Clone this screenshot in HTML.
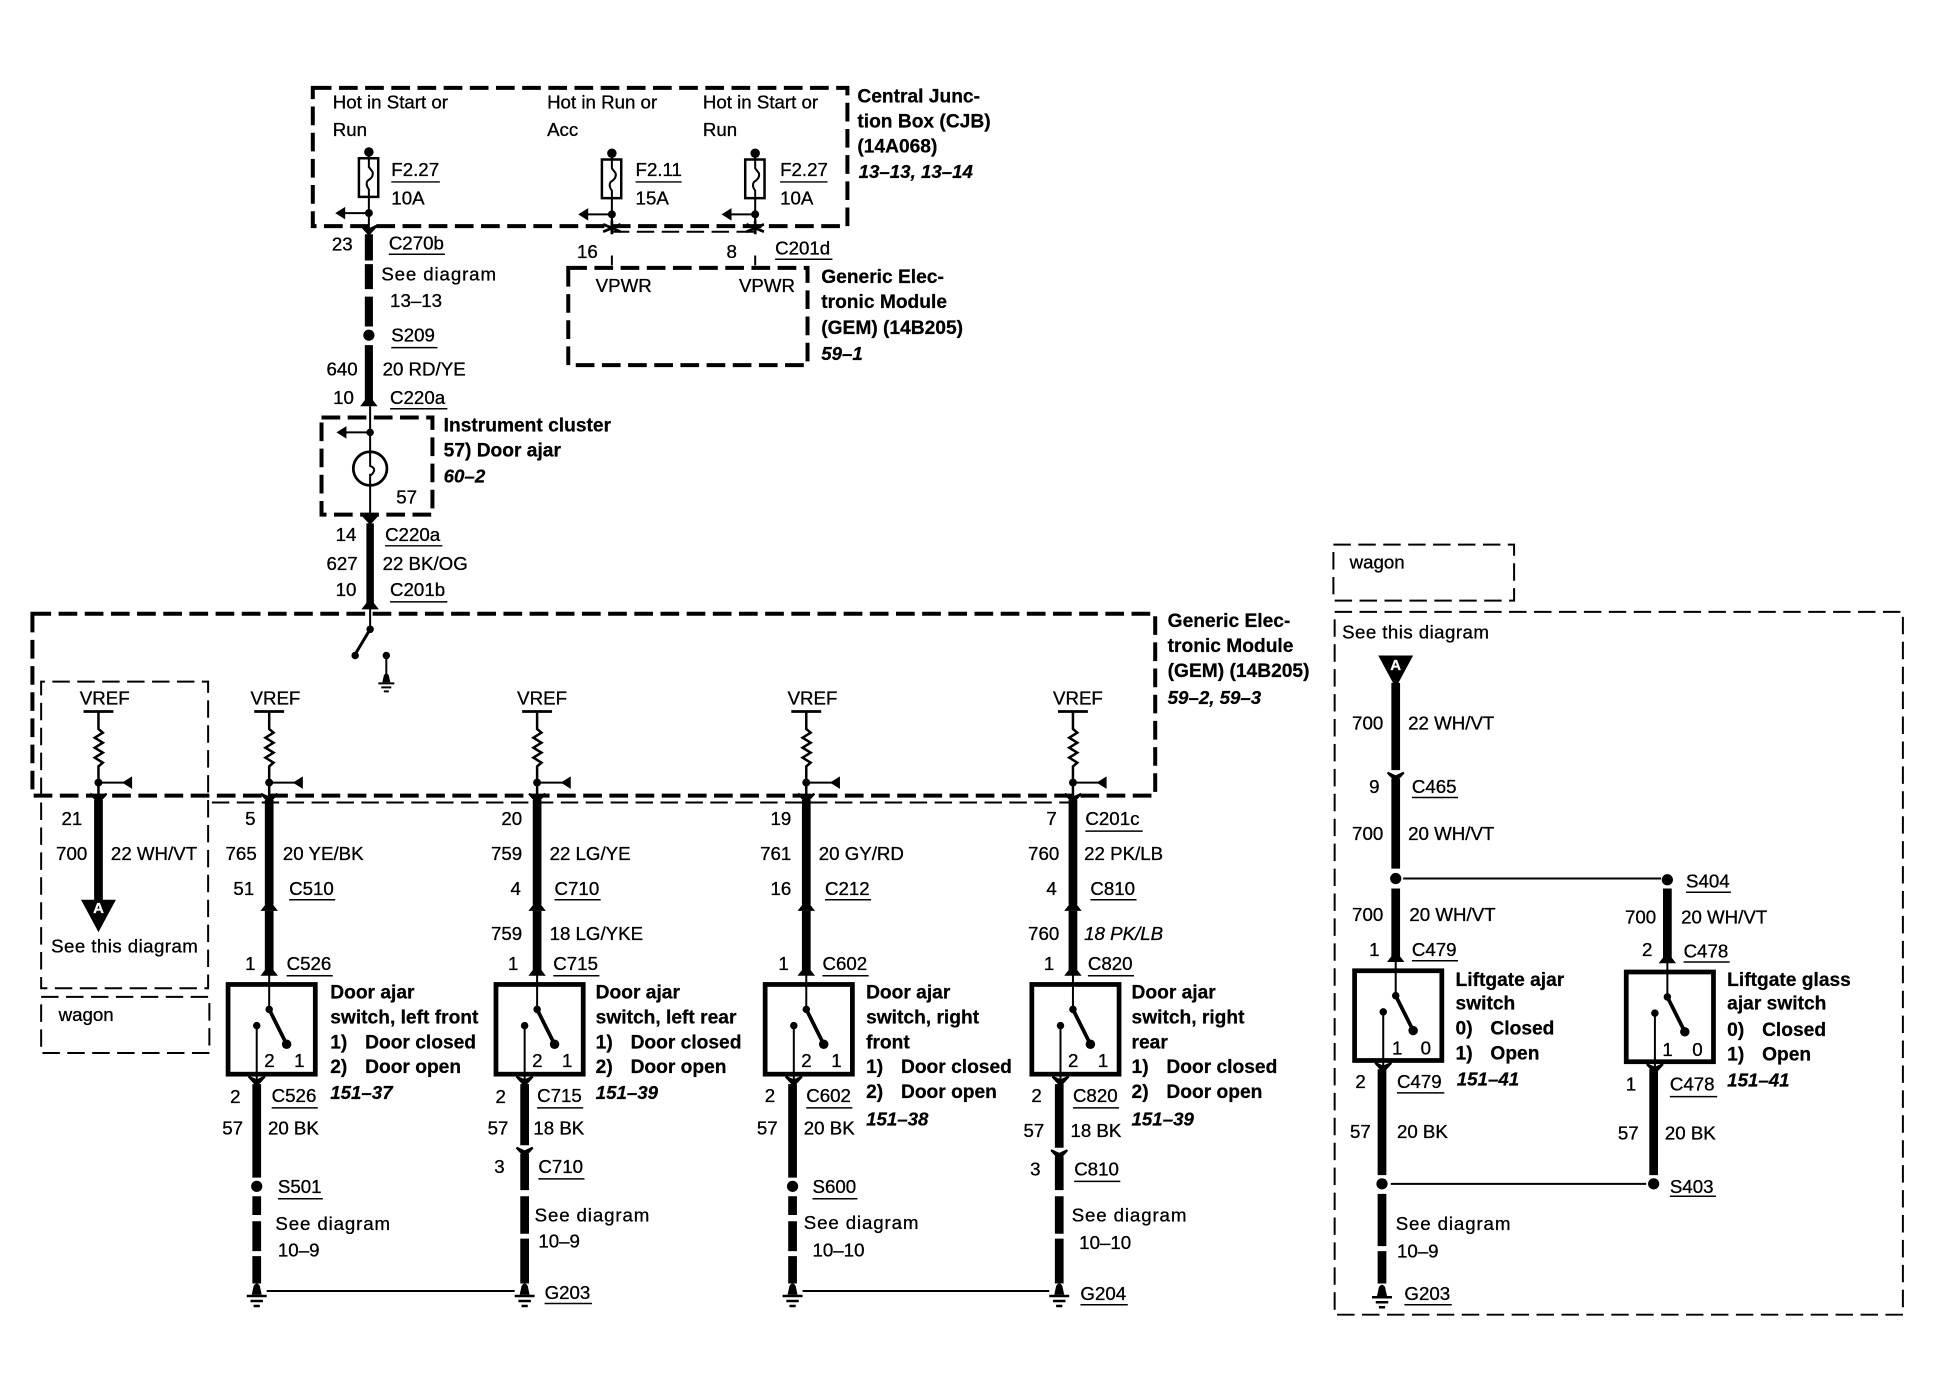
<!DOCTYPE html>
<html><head><meta charset="utf-8"><title>Door ajar wiring diagram</title>
<style>
html,body{margin:0;padding:0;background:#fff}
svg{display:block}
text{font-family:"Liberation Sans",sans-serif;font-size:15px;fill:#000;dominant-baseline:central;stroke:#000;stroke-width:.25}
.b{font-weight:bold;font-size:15.4px;stroke-width:.2;transform:translateY(.8px)}
.i{font-weight:bold;font-style:italic;stroke-width:.2;transform:translateY(.8px)}
.e{text-anchor:end}
.m{text-anchor:middle}
.s{letter-spacing:.7px}
.s2{letter-spacing:.35px}
.d{fill:none;stroke:#000;stroke-width:3.2;stroke-dasharray:15 6}
.t{fill:none;stroke:#000;stroke-width:1.6;stroke-dasharray:14 6}
.w{fill:none;stroke:#000;stroke-width:7}
.l{fill:none;stroke:#000;stroke-width:1.6}
.u{fill:none;stroke:#000;stroke-width:1.2}
</style></head><body>
<svg xmlns="http://www.w3.org/2000/svg" width="1954" height="1376" viewBox="0 0 1568 1104.2">
<defs>
<g id="dn"><path d="M-6.500 0L0 7L6.500 0L0 3Z" fill="#000" stroke="#000" stroke-width="1.600"/></g>
<g id="up"><path d="M0 0L-7 9H7Z" fill="#000"/></g>
<g id="gnd"><path d="M-2.5 -8Q0 -12 2.5 -8L4 -1H-4Z" fill="#000"/><path d="M-8 0H8M-5 4H5M-2.5 8H2.5" stroke="#000" stroke-width="2" fill="none"/></g>
<g id="vr"><path d="M-12 0H12" stroke="#000" stroke-width="2.2"/><path d="M0 0V14L3.5 17L-3 21L3.5 25L-3 29L3.5 33L-3 37L3.5 41L0 44V68" class="l" style="stroke-width:2"/><circle cy="57" r="3.2"/><path d="M0 57H22" class="l"/><path d="M27 52V62L19 57Z"/><use href="#dn" y="66"/></g>
<g id="sw"><rect x="-33" y="0" width="70" height="72" fill="none" stroke="#000" stroke-width="3.8"/><path d="M0 -8V20M-10 33V80" class="l"/><path d="M0 20L14 48" stroke="#000" stroke-width="3"/><circle cy="20" r="3"/><circle cx="14" cy="48" r="3.8"/><circle cx="-10" cy="33" r="3"/><use href="#up" y="-16"/><use href="#dn" x="-10" y="74"/></g>
<g id="fu"><circle cy="0" r="3.8"/><rect x="-8" y="5" width="15.5" height="31" fill="none" stroke="#000" stroke-width="2"/><path d="M0 2V12L3 16Q4 20 -1 23Q-3 26 0 30V60" class="l"/><circle cy="49" r="3.2"/><path d="M0 49H-22" class="l"/><path d="M-27 49L-19 44V54Z"/></g>
<g id="x"><path d="M-7 -2L7 4M7 -2L-7 4M0 -5V6" stroke="#000" stroke-width="2.2" fill="none"/></g>
</defs>
<rect width="1568" height="1104.2" fill="#fff"/>

<!-- dashed boxes -->
<rect x="251" y="70.500" width="429" height="111" class="d"/>
<path d="M491 186H606" class="t"/>
<path d="M491 205V213M606 205V213" class="l"/>
<rect x="456" y="215" width="192" height="78" class="d"/>
<rect x="258" y="335" width="89" height="78" class="d"/>
<rect x="26" y="492.500" width="901" height="146" class="d"/>
<path d="M170 644H860" class="t"/>
<path d="M33 644V793H167V547H33V644" class="t"/>
<rect x="33" y="800" width="135" height="45" class="t"/>
<rect x="1070" y="437" width="145" height="45" class="t"/>
<rect x="1071" y="491" width="456" height="564" class="t"/>

<!-- top wiring -->
<use href="#fu" x="296" y="122"/><use href="#fu" x="491" y="123"/><use href="#fu" x="606" y="123"/>
<path d="M296 182V188M491 170V182M606 170V182" class="l"/>
<use href="#x" x="491" y="182"/><use href="#x" x="606" y="182"/>
<use href="#dn" x="296" y="181"/>
<path d="M296 188V209M296 212V232M296 238V262M296 277V322" class="w" style="stroke-width:6.5"/>
<circle cx="296" cy="269" r="4.5"/>
<use href="#up" x="296" y="317"/>
<path d="M297 326V418M297 482V505" class="l"/>
<circle cx="297" cy="347" r="3"/><path d="M297 347H276" class="l"/><path d="M270 347L278 342V352Z"/>
<circle cx="297" cy="376" r="13.500" fill="#fff" stroke="#000" stroke-width="2.2"/>
<path d="M297 362V374Q303 376 298 381H297V390" class="l"/>
<use href="#dn" x="297" y="413"/>
<path d="M297 420V484" class="w" style="stroke-width:6"/>
<use href="#up" x="297" y="480"/>
<circle cx="297" cy="505" r="3"/><path d="M297 505L285 525" stroke="#000" stroke-width="2.4"/><circle cx="285" cy="526" r="3"/>
<circle cx="310" cy="526" r="3"/><path d="M310 526V544" class="l"/><use href="#gnd" x="310" y="548" transform="translate(62 110) scale(.8)" />

<!-- GEM column VREF -->
<use href="#vr" x="79" y="571"/><use href="#vr" x="216" y="571"/><use href="#vr" x="431" y="571"/><use href="#vr" x="647" y="571"/><use href="#vr" x="861" y="571"/>

<!-- Column wires -->
<path d="M79 642V724" class="w"/><path d="M65 722H93L79 748Z"/>
<path d="M216 642V726M216 731V782" class="w"/><use href="#up" x="216" y="722"/>
<path d="M431 642V726M431 731V782" class="w"/><use href="#up" x="431" y="722"/>
<path d="M647 642V726M647 731V782" class="w"/><use href="#up" x="647" y="722"/>
<path d="M861 642V726M861 731V782" class="w"/><use href="#up" x="861" y="722"/>

<use href="#sw" x="216" y="790"/><use href="#sw" x="431" y="790"/><use href="#sw" x="647" y="790"/><use href="#sw" x="861" y="790"/>

<path d="M206 870V945M206 960V975M206 980V1004M206 1008V1030" class="w"/><circle cx="206" cy="952" r="4.5"/>
<path d="M421 870V919M421 926V955M421 960V990M421 994V1030" class="w"/><use href="#dn" x="421" y="921"/>
<path d="M636 870V945M636 960V975M636 980V1004M636 1008V1030" class="w"/><circle cx="636" cy="952" r="4.5"/>
<path d="M850 870V921M850 928V955M850 960V990M850 994V1030" class="w"/><use href="#dn" x="850" y="923"/>
<use href="#gnd" x="206" y="1040"/><use href="#gnd" x="421" y="1040"/><use href="#gnd" x="636" y="1040"/><use href="#gnd" x="850" y="1040"/>
<path d="M214 1036H413M644 1036H842" class="l"/>

<!-- Right panel -->
<path d="M1106 526H1134L1120 552Z"/>
<path d="M1120 548V618M1120 625V697M1120 713V772" class="w"/><use href="#dn" x="1120" y="620"/>
<circle cx="1120" cy="705" r="4.500"/><circle cx="1338" cy="706" r="4.500"/><path d="M1126 705H1333" class="l"/>
<path d="M1338 713V772" class="w"/>
<use href="#sw" x="1120" y="779"/><use href="#sw" x="1338" y="780"/>
<path d="M1109 858V943M1109 958V1000M1109 1004V1030" class="w"/><circle cx="1109" cy="950" r="4.500"/>
<path d="M1327 858V943" class="w"/><circle cx="1327" cy="950" r="4.500"/><path d="M1116 950H1321" class="l"/>
<use href="#gnd" x="1109" y="1041"/>

<!-- underlines -->
<path class="u" d="M314 146H353M510 146H547M626 146H664M312 204H357M622 208H668M314 279H351M313 328H359M309 438H355M313 483H359M232 722H269M445 722H482M662 722H699M875 722H912M230 783H267M444 783H481M660 783H697M873 783H910M871 667H917M218 889H255M431 889H468M647 889H684M861 889H898M432 946H469M862 948H899M223 962H259M652 962H688M437 1046H475M867 1047H905M1133 640H1170M1353 716H1389M1133 771H1170M1351 772H1388M1121 877H1159M1340 880H1378M1340 960H1377M1127 1047H1165"/>

<!-- text top -->
<text x="267" y="82">Hot in Start or</text><text x="267" y="104">Run</text>
<text x="439" y="82">Hot in Run or</text><text x="439" y="104">Acc</text>
<text x="564" y="82">Hot in Start or</text><text x="564" y="104">Run</text>
<text x="314" y="136">F2.27</text><text x="314" y="159">10A</text>
<text x="510" y="136">F2.11</text><text x="510" y="159">15A</text>
<text x="626" y="136">F2.27</text><text x="626" y="159">10A</text>
<text x="688" y="77" class="b">Central Junc-</text><text x="688" y="97" class="b">tion Box (CJB)</text><text x="688" y="117" class="b">(14A068)</text><text x="689" y="137" class="i">13–13, 13–14</text>
<text x="283" y="196" class="e">23</text><text x="312" y="195">C270b</text><text x="306" y="220" class="s">See diagram</text><text x="313" y="241">13–13</text>
<text x="314" y="269">S209</text><text x="287" y="296" class="e">640</text><text x="307" y="296">20 RD/YE</text><text x="284" y="319" class="e">10</text><text x="313" y="319">C220a</text>
<text x="463" y="202">16</text><text x="583" y="202">8</text><text x="622" y="199">C201d</text>
<text x="478" y="229">VPWR</text><text x="593" y="229">VPWR</text>
<text x="659" y="222" class="b">Generic Elec-</text><text x="659" y="242" class="b">tronic Module</text><text x="659" y="263" class="b">(GEM) (14B205)</text><text x="659" y="283" class="i">59–1</text>
<text x="356" y="341" class="b">Instrument cluster</text><text x="356" y="361" class="b">57) Door ajar</text><text x="356" y="381" class="i">60–2</text><text x="318" y="399">57</text>
<text x="286" y="429" class="e">14</text><text x="309" y="429">C220a</text><text x="287" y="452" class="e">627</text><text x="307" y="452">22 BK/OG</text><text x="286" y="473" class="e">10</text><text x="313" y="473">C201b</text>
<text x="937" y="498" class="b">Generic Elec-</text><text x="937" y="518" class="b">tronic Module</text><text x="937" y="538" class="b">(GEM) (14B205)</text><text x="937" y="559" class="i">59–2, 59–3</text>
<text x="84" y="560" class="m">VREF</text><text x="221" y="560" class="m">VREF</text><text x="435" y="560" class="m">VREF</text><text x="652" y="560" class="m">VREF</text><text x="865" y="560" class="m">VREF</text>

<!-- col 1 -->
<text x="66" y="657" class="e">21</text><text x="70" y="685" class="e">700</text><text x="89" y="685">22 WH/VT</text>
<text x="79" y="729" class="m" style="fill:#fff;stroke:#fff;font-size:12px;font-weight:bold">A</text>
<text x="41" y="759" class="s2">See this diagram</text><text x="47" y="814">wagon</text>

<!-- col 2 -->
<text x="205" y="657" class="e">5</text><text x="206" y="685" class="e">765</text><text x="227" y="685">20 YE/BK</text><text x="204" y="713" class="e">51</text><text x="232" y="713">C510</text><text x="205" y="773" class="e">1</text><text x="230" y="773">C526</text>
<text x="265" y="796" class="b">Door ajar</text><text x="265" y="816" class="b">switch, left front</text><text x="265" y="836" class="b">1)</text><text x="293" y="836" class="b">Door closed</text><text x="265" y="856" class="b">2)</text><text x="293" y="856" class="b">Door open</text><text x="265" y="876" class="i">151–37</text>
<text x="212" y="851">2</text><text x="236" y="851">1</text>
<text x="193" y="880" class="e">2</text><text x="218" y="879">C526</text><text x="195" y="905" class="e">57</text><text x="215" y="905">20 BK</text><text x="223" y="952">S501</text><text x="221" y="982" class="s">See diagram</text><text x="223" y="1003">10–9</text>

<!-- col 3 -->
<text x="419" y="657" class="e">20</text><text x="419" y="685" class="e">759</text><text x="441" y="685">22 LG/YE</text><text x="418" y="713" class="e">4</text><text x="445" y="713">C710</text><text x="419" y="749" class="e">759</text><text x="441" y="749">18 LG/YKE</text><text x="416" y="773" class="e">1</text><text x="444" y="773">C715</text>
<text x="478" y="796" class="b">Door ajar</text><text x="478" y="816" class="b">switch, left rear</text><text x="478" y="836" class="b">1)</text><text x="506" y="836" class="b">Door closed</text><text x="478" y="856" class="b">2)</text><text x="506" y="856" class="b">Door open</text><text x="478" y="876" class="i">151–39</text>
<text x="427" y="851">2</text><text x="451" y="851">1</text>
<text x="406" y="880" class="e">2</text><text x="431" y="879">C715</text><text x="408" y="905" class="e">57</text><text x="428" y="905">18 BK</text><text x="405" y="936" class="e">3</text><text x="432" y="936">C710</text><text x="429" y="975" class="s">See diagram</text><text x="432" y="996">10–9</text><text x="437" y="1037">G203</text>

<!-- col 4 -->
<text x="635" y="657" class="e">19</text><text x="635" y="685" class="e">761</text><text x="657" y="685">20 GY/RD</text><text x="635" y="713" class="e">16</text><text x="662" y="713">C212</text><text x="633" y="773" class="e">1</text><text x="660" y="773">C602</text>
<text x="695" y="796" class="b">Door ajar</text><text x="695" y="816" class="b">switch, right</text><text x="695" y="836" class="b">front</text><text x="695" y="856" class="b">1)</text><text x="723" y="856" class="b">Door closed</text><text x="695" y="876" class="b">2)</text><text x="723" y="876" class="b">Door open</text><text x="695" y="897" class="i">151–38</text>
<text x="643" y="851">2</text><text x="667" y="851">1</text>
<text x="622" y="879" class="e">2</text><text x="647" y="879">C602</text><text x="624" y="905" class="e">57</text><text x="645" y="905">20 BK</text><text x="652" y="952">S600</text><text x="645" y="981" class="s">See diagram</text><text x="652" y="1003">10–10</text>

<!-- col 5 -->
<text x="848" y="657" class="e">7</text><text x="871" y="657">C201c</text><text x="850" y="685" class="e">760</text><text x="870" y="685">22 PK/LB</text><text x="848" y="713" class="e">4</text><text x="875" y="713">C810</text><text x="850" y="749" class="e">760</text><text x="870" y="749" style="font-style:italic">18 PK/LB</text><text x="846" y="773" class="e">1</text><text x="873" y="773">C820</text>
<text x="908" y="796" class="b">Door ajar</text><text x="908" y="816" class="b">switch, right</text><text x="908" y="836" class="b">rear</text><text x="908" y="856" class="b">1)</text><text x="936" y="856" class="b">Door closed</text><text x="908" y="876" class="b">2)</text><text x="936" y="876" class="b">Door open</text><text x="908" y="897" class="i">151–39</text>
<text x="857" y="851">2</text><text x="881" y="851">1</text>
<text x="836" y="879" class="e">2</text><text x="861" y="879">C820</text><text x="838" y="907" class="e">57</text><text x="859" y="907">18 BK</text><text x="835" y="938" class="e">3</text><text x="862" y="938">C810</text><text x="860" y="975" class="s">See diagram</text><text x="866" y="997">10–10</text><text x="867" y="1038">G204</text>

<!-- right panel text -->
<text x="1083" y="451">wagon</text><text x="1077" y="507" class="s2">See this diagram</text>
<text x="1120" y="534" class="m" style="fill:#fff;stroke:#fff;font-size:12px;font-weight:bold">A</text>
<text x="1110" y="580" class="e">700</text><text x="1130" y="580">22 WH/VT</text><text x="1107" y="631" class="e">9</text><text x="1133" y="631">C465</text><text x="1110" y="669" class="e">700</text><text x="1130" y="669">20 WH/VT</text>
<text x="1353" y="707">S404</text><text x="1110" y="734" class="e">700</text><text x="1131" y="734">20 WH/VT</text><text x="1107" y="762" class="e">1</text><text x="1133" y="762">C479</text>
<text x="1329" y="736" class="e">700</text><text x="1349" y="736">20 WH/VT</text><text x="1326" y="762" class="e">2</text><text x="1351" y="763">C478</text>
<text x="1168" y="786" class="b">Liftgate ajar</text><text x="1168" y="805" class="b">switch</text><text x="1168" y="825" class="b">0)</text><text x="1196" y="825" class="b">Closed</text><text x="1168" y="845" class="b">1)</text><text x="1196" y="845" class="b">Open</text><text x="1169" y="865" class="i">151–41</text>
<text x="1386" y="786" class="b">Liftgate glass</text><text x="1386" y="805" class="b">ajar switch</text><text x="1386" y="826" class="b">0)</text><text x="1414" y="826" class="b">Closed</text><text x="1386" y="846" class="b">1)</text><text x="1414" y="846" class="b">Open</text><text x="1386" y="866" class="i">151–41</text>
<text x="1117" y="841">1</text><text x="1140" y="841">0</text><text x="1334" y="842">1</text><text x="1358" y="842">0</text>
<text x="1096" y="868" class="e">2</text><text x="1121" y="868">C479</text><text x="1100" y="908" class="e">57</text><text x="1121" y="908">20 BK</text><text x="1120" y="982" class="s">See diagram</text><text x="1121" y="1004">10–9</text><text x="1127" y="1038">G203</text>
<text x="1313" y="870" class="e">1</text><text x="1340" y="870">C478</text><text x="1315" y="909" class="e">57</text><text x="1336" y="909">20 BK</text><text x="1340" y="952">S403</text>
</svg>
</body></html>
